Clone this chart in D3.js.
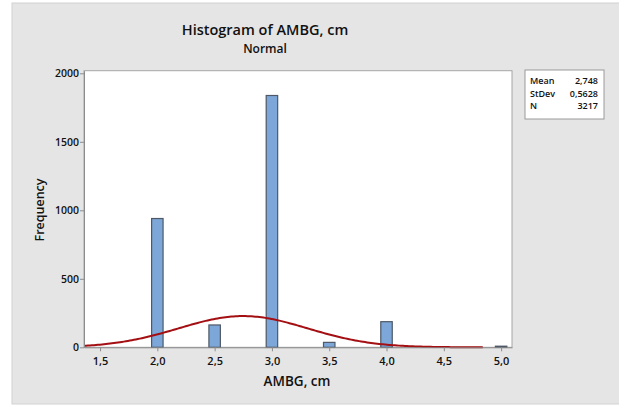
<!DOCTYPE html>
<html><head><meta charset="utf-8">
<script src="https://cdn.jsdelivr.net/npm/d3@7"></script>
<style>
html,body{margin:0;padding:0;background:#fff;}
text{font-family:"Open Sans","Noto Sans",sans-serif;fill:#111;}
</style></head>
<body><svg id="c" width="619" height="405"></svg>
<script>
const binCenters = [2.0, 2.5, 3.0, 3.5, 4.0, 5.0];
const binCounts  = [940, 163, 1838, 36, 187, 8];
const binWidth = 0.1;
const xTicks = [1.5, 2.0, 2.5, 3.0, 3.5, 4.0, 4.5, 5.0];
const yTicks = [0, 500, 1000, 1500, 2000];
const statLabels = ["Mean", "StDev", "N"];
const statValues = ["2,748", "0,5628", "3217"];
const mean = 2.748, sd = 0.5628, n = 3217;
const curveRange = [1.36, 4.84];

const svg = d3.select("#c");
svg.append("rect").attr("x",12).attr("y",3).attr("width",615).attr("height",401)
  .attr("fill","#e5e5e5").attr("stroke","#d2d2d2");

const L=84, R=512, T=70.7, B=347.3;
const x = d3.scaleLinear().domain([1.36, 5.095]).range([L,R]);
const y = d3.scaleLinear().domain([0, 2019]).range([B,T]);

svg.append("rect").attr("x",L).attr("y",T).attr("width",R-L).attr("height",B-T)
  .attr("fill","#fff").attr("stroke","#a6a6a6");

const fmt = d => d3.format(".1f")(d).replace(".", ",");

// bars
svg.append("g").selectAll("rect").data(binCenters).join("rect")
  .attr("x",(d)=>x(d-binWidth/2))
  .attr("width",(d)=>x(d+binWidth/2)-x(d-binWidth/2))
  .attr("y",(d,i)=>y(binCounts[i]))
  .attr("height",(d,i)=>y(0)-y(binCounts[i]))
  .attr("fill","#7da7d9").attr("stroke","#4e5866").attr("stroke-width",1.2);

// normal curve
const pdf = v => Math.exp(-0.5*((v-mean)/sd)**2)/(sd*Math.sqrt(2*Math.PI));
const pts = d3.range(0,201).map(i=>curveRange[0]+(curveRange[1]-curveRange[0])*i/200);
svg.append("path").datum(pts)
  .attr("d", d3.line().x(v=>x(v)).y(v=>y(n*binWidth*pdf(v))))
  .attr("fill","none").attr("stroke","#a30f12").attr("stroke-width",2);

// axes
const xa = svg.append("g").attr("transform",`translate(0,${B})`)
  .call(d3.axisBottom(x).tickValues(xTicks).tickFormat(fmt).tickSize(4).tickSizeOuter(0));
const ya = svg.append("g").attr("transform",`translate(${L},0)`)
  .call(d3.axisLeft(y).tickValues(yTicks).tickFormat(d3.format("d")).tickSize(4).tickSizeOuter(0));
[xa,ya].forEach(a=>{
  a.select(".domain").attr("stroke","#8c8c8c");
  a.selectAll(".tick line").attr("stroke","#8c8c8c");
  a.selectAll("text").attr("fill","#111").style("font-family",'"Open Sans","Noto Sans",sans-serif')
   .style("font-weight","600");
});
xa.selectAll("text").style("font-size","11px").attr("dy","0.95em");
ya.selectAll("text").style("font-size","10.5px").attr("x",-5);

// titles
svg.append("text").attr("x",265).attr("y",35).attr("text-anchor","middle")
  .style("font-size","14.5px").style("font-weight","600").text("Histogram of AMBG, cm");
svg.append("text").attr("x",265).attr("y",53).attr("text-anchor","middle")
  .style("font-size","12px").style("font-weight","600").text("Normal");
svg.append("text").attr("x",297).attr("y",386).attr("text-anchor","middle")
  .style("font-size","13.5px").style("font-weight","600").text("AMBG, cm");
svg.append("text").attr("transform","translate(44,210) rotate(-90)").attr("text-anchor","middle")
  .style("font-size","12.5px").style("font-weight","600").text("Frequency");

// stats box
svg.append("rect").attr("x",525).attr("y",70).attr("width",79).attr("height",49)
  .attr("fill","#fff").attr("stroke","#9a9a9a");
statLabels.forEach((s,i)=>{
  svg.append("text").attr("x",530).attr("y",84+i*12.5).style("font-size","9px").style("font-weight","600").text(s);
  svg.append("text").attr("x",598).attr("y",84+i*12.5).attr("text-anchor","end").style("font-size","9px").style("font-weight","600").text(statValues[i]);
});
</script></body></html>
